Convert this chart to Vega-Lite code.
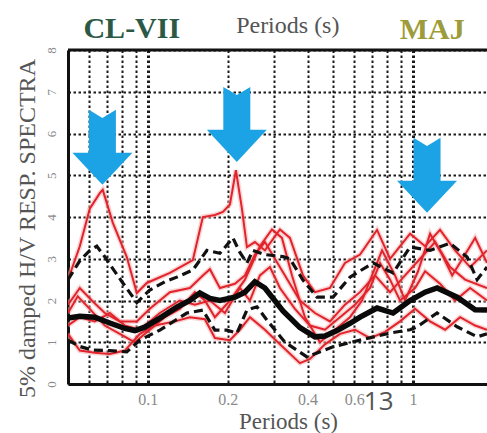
{
  "$schema": "https://vega.github.io/schema/vega-lite/v6.json",
  "width": 419,
  "height": 334,
  "autosize": {"type": "none"},
  "padding": {"left": 68, "top": 50, "right": 0, "bottom": 49},
  "background": "white",
  "config": {"view": {"stroke": null}, "font": "Liberation Serif"},
  "datasets": {
    "curves": [
      {"s": "mean", "p": 0.05, "v": 1.58}, {"s": "mean", "p": 0.0554, "v": 1.62}, {"s": "mean", "p": 0.0631, "v": 1.6}, {"s": "mean", "p": 0.0719, "v": 1.46}, {"s": "mean", "p": 0.0819, "v": 1.33}, {"s": "mean", "p": 0.0893, "v": 1.28}, {"s": "mean", "p": 0.0974, "v": 1.36}, {"s": "mean", "p": 0.111, "v": 1.58}, {"s": "mean", "p": 0.1286, "v": 1.84}, {"s": "mean", "p": 0.144, "v": 2.0}, {"s": "mean", "p": 0.1571, "v": 2.18}, {"s": "mean", "p": 0.1714, "v": 2.05}, {"s": "mean", "p": 0.1869, "v": 2.0}, {"s": "mean", "p": 0.2129, "v": 2.08}, {"s": "mean", "p": 0.2323, "v": 2.2}, {"s": "mean", "p": 0.2533, "v": 2.45}, {"s": "mean", "p": 0.2763, "v": 2.3}, {"s": "mean", "p": 0.3232, "v": 1.75}, {"s": "mean", "p": 0.3745, "v": 1.35}, {"s": "mean", "p": 0.4266, "v": 1.13}, {"s": "mean", "p": 0.4653, "v": 1.15}, {"s": "mean", "p": 0.5165, "v": 1.28}, {"s": "mean", "p": 0.5782, "v": 1.45}, {"s": "mean", "p": 0.631, "v": 1.6}, {"s": "mean", "p": 0.7314, "v": 1.82}, {"s": "mean", "p": 0.841, "v": 1.7}, {"s": "mean", "p": 0.9743, "v": 2.0}, {"s": "mean", "p": 1.11, "v": 2.2}, {"s": "mean", "p": 1.232, "v": 2.3}, {"s": "mean", "p": 1.466, "v": 2.08}, {"s": "mean", "p": 1.714, "v": 1.78}, {"s": "mean", "p": 1.9, "v": 1.77},

      {"s": "plus", "p": 0.05, "v": 2.5}, {"s": "plus", "p": 0.0554, "v": 2.95}, {"s": "plus", "p": 0.0604, "v": 3.2}, {"s": "plus", "p": 0.0642, "v": 3.3}, {"s": "plus", "p": 0.0688, "v": 3.05}, {"s": "plus", "p": 0.0731, "v": 2.8}, {"s": "plus", "p": 0.0805, "v": 2.42}, {"s": "plus", "p": 0.0909, "v": 1.95}, {"s": "plus", "p": 0.1017, "v": 2.25}, {"s": "plus", "p": 0.1159, "v": 2.45}, {"s": "plus", "p": 0.1286, "v": 2.56}, {"s": "plus", "p": 0.1478, "v": 2.73}, {"s": "plus", "p": 0.167, "v": 3.2}, {"s": "plus", "p": 0.1869, "v": 3.13}, {"s": "plus", "p": 0.2093, "v": 3.5}, {"s": "plus", "p": 0.2224, "v": 3.15}, {"s": "plus", "p": 0.2364, "v": 2.9}, {"s": "plus", "p": 0.2489, "v": 3.2}, {"s": "plus", "p": 0.2763, "v": 3.1}, {"s": "plus", "p": 0.3232, "v": 3.05}, {"s": "plus", "p": 0.3433, "v": 3.0}, {"s": "plus", "p": 0.3845, "v": 2.49}, {"s": "plus", "p": 0.4342, "v": 2.08}, {"s": "plus", "p": 0.499, "v": 2.08}, {"s": "plus", "p": 0.5782, "v": 2.56}, {"s": "plus", "p": 0.7064, "v": 2.9}, {"s": "plus", "p": 0.841, "v": 2.66}, {"s": "plus", "p": 0.9743, "v": 3.28}, {"s": "plus", "p": 1.159, "v": 3.2}, {"s": "plus", "p": 1.379, "v": 3.37}, {"s": "plus", "p": 1.599, "v": 3.04}, {"s": "plus", "p": 1.744, "v": 2.5}, {"s": "plus", "p": 1.9, "v": 2.8},

      {"s": "minus", "p": 0.05, "v": 1.05}, {"s": "minus", "p": 0.0554, "v": 0.9}, {"s": "minus", "p": 0.062, "v": 0.81}, {"s": "minus", "p": 0.0719, "v": 0.8}, {"s": "minus", "p": 0.0833, "v": 0.77}, {"s": "minus", "p": 0.0933, "v": 1.05}, {"s": "minus", "p": 0.111, "v": 1.29}, {"s": "minus", "p": 0.1403, "v": 1.7}, {"s": "minus", "p": 0.1612, "v": 1.77}, {"s": "minus", "p": 0.179, "v": 1.29}, {"s": "minus", "p": 0.1986, "v": 1.29}, {"s": "minus", "p": 0.2167, "v": 1.22}, {"s": "minus", "p": 0.2364, "v": 1.77}, {"s": "minus", "p": 0.2578, "v": 1.85}, {"s": "minus", "p": 0.2812, "v": 1.53}, {"s": "minus", "p": 0.3288, "v": 1.0}, {"s": "minus", "p": 0.398, "v": 0.65}, {"s": "minus", "p": 0.499, "v": 0.89}, {"s": "minus", "p": 0.631, "v": 1.05}, {"s": "minus", "p": 0.8188, "v": 1.22}, {"s": "minus", "p": 0.9743, "v": 1.3}, {"s": "minus", "p": 1.035, "v": 1.37}, {"s": "minus", "p": 1.232, "v": 1.7}, {"s": "minus", "p": 1.466, "v": 1.37}, {"s": "minus", "p": 1.744, "v": 1.13}, {"s": "minus", "p": 1.9, "v": 1.2},

      {"s": "r1", "p": 0.05, "v": 2.5}, {"s": "r1", "p": 0.0554, "v": 3.3}, {"s": "r1", "p": 0.0604, "v": 4.2}, {"s": "r1", "p": 0.0659, "v": 4.57}, {"s": "r1", "p": 0.0676, "v": 4.65}, {"s": "r1", "p": 0.0738, "v": 3.86}, {"s": "r1", "p": 0.0833, "v": 3.04}, {"s": "r1", "p": 0.0909, "v": 2.18}, {"s": "r1", "p": 0.0991, "v": 2.42}, {"s": "r1", "p": 0.1211, "v": 2.66}, {"s": "r1", "p": 0.1478, "v": 2.97}, {"s": "r1", "p": 0.1612, "v": 4.0}, {"s": "r1", "p": 0.179, "v": 4.05}, {"s": "r1", "p": 0.1919, "v": 4.12}, {"s": "r1", "p": 0.2039, "v": 4.3}, {"s": "r1", "p": 0.2148, "v": 5.12}, {"s": "r1", "p": 0.2263, "v": 4.2}, {"s": "r1", "p": 0.2364, "v": 3.28}, {"s": "r1", "p": 0.2533, "v": 3.4}, {"s": "r1", "p": 0.2763, "v": 3.2}, {"s": "r1", "p": 0.3148, "v": 3.7}, {"s": "r1", "p": 0.3433, "v": 3.5}, {"s": "r1", "p": 0.3845, "v": 2.6}, {"s": "r1", "p": 0.4266, "v": 2.2}, {"s": "r1", "p": 0.486, "v": 2.3}, {"s": "r1", "p": 0.5536, "v": 2.9}, {"s": "r1", "p": 0.631, "v": 3.1}, {"s": "r1", "p": 0.7314, "v": 3.69}, {"s": "r1", "p": 0.8188, "v": 3.0}, {"s": "r1", "p": 0.9743, "v": 3.6}, {"s": "r1", "p": 1.11, "v": 3.3}, {"s": "r1", "p": 1.264, "v": 3.69}, {"s": "r1", "p": 1.44, "v": 3.2}, {"s": "r1", "p": 1.641, "v": 2.8}, {"s": "r1", "p": 1.9, "v": 3.2},

      {"s": "r2", "p": 0.05, "v": 1.9}, {"s": "r2", "p": 0.0554, "v": 2.3}, {"s": "r2", "p": 0.0615, "v": 2.0}, {"s": "r2", "p": 0.0688, "v": 1.7}, {"s": "r2", "p": 0.0784, "v": 1.5}, {"s": "r2", "p": 0.0909, "v": 1.5}, {"s": "r2", "p": 0.1017, "v": 1.8}, {"s": "r2", "p": 0.1211, "v": 2.2}, {"s": "r2", "p": 0.144, "v": 2.3}, {"s": "r2", "p": 0.1612, "v": 2.6}, {"s": "r2", "p": 0.1714, "v": 2.75}, {"s": "r2", "p": 0.1869, "v": 2.3}, {"s": "r2", "p": 0.2129, "v": 2.4}, {"s": "r2", "p": 0.2323, "v": 2.6}, {"s": "r2", "p": 0.2533, "v": 3.1}, {"s": "r2", "p": 0.2763, "v": 3.4}, {"s": "r2", "p": 0.3014, "v": 3.0}, {"s": "r2", "p": 0.3288, "v": 2.6}, {"s": "r2", "p": 0.3745, "v": 2.0}, {"s": "r2", "p": 0.4266, "v": 1.7}, {"s": "r2", "p": 0.486, "v": 1.5}, {"s": "r2", "p": 0.5536, "v": 1.9}, {"s": "r2", "p": 0.631, "v": 2.2}, {"s": "r2", "p": 0.7188, "v": 2.6}, {"s": "r2", "p": 0.8188, "v": 2.2}, {"s": "r2", "p": 0.9328, "v": 2.6}, {"s": "r2", "p": 1.0627, "v": 3.0}, {"s": "r2", "p": 1.211, "v": 3.4}, {"s": "r2", "p": 1.379, "v": 2.8}, {"s": "r2", "p": 1.571, "v": 2.5}, {"s": "r2", "p": 1.9, "v": 2.3},

      {"s": "r3", "p": 0.05, "v": 1.2}, {"s": "r3", "p": 0.0554, "v": 0.8}, {"s": "r3", "p": 0.0631, "v": 0.75}, {"s": "r3", "p": 0.0719, "v": 0.72}, {"s": "r3", "p": 0.0819, "v": 0.8}, {"s": "r3", "p": 0.0933, "v": 1.2}, {"s": "r3", "p": 0.1063, "v": 1.4}, {"s": "r3", "p": 0.1264, "v": 1.5}, {"s": "r3", "p": 0.144, "v": 1.6}, {"s": "r3", "p": 0.1641, "v": 1.55}, {"s": "r3", "p": 0.179, "v": 1.1}, {"s": "r3", "p": 0.2039, "v": 1.05}, {"s": "r3", "p": 0.2224, "v": 1.3}, {"s": "r3", "p": 0.2426, "v": 1.6}, {"s": "r3", "p": 0.2763, "v": 1.3}, {"s": "r3", "p": 0.3148, "v": 0.95}, {"s": "r3", "p": 0.3745, "v": 0.5}, {"s": "r3", "p": 0.4085, "v": 0.6}, {"s": "r3", "p": 0.4653, "v": 0.95}, {"s": "r3", "p": 0.5301, "v": 1.2}, {"s": "r3", "p": 0.6039, "v": 1.3}, {"s": "r3", "p": 0.6882, "v": 1.1}, {"s": "r3", "p": 0.784, "v": 1.25}, {"s": "r3", "p": 0.8931, "v": 1.5}, {"s": "r3", "p": 1.0175, "v": 1.8}, {"s": "r3", "p": 1.159, "v": 1.5}, {"s": "r3", "p": 1.321, "v": 1.3}, {"s": "r3", "p": 1.504, "v": 1.6}, {"s": "r3", "p": 1.714, "v": 1.4}, {"s": "r3", "p": 1.9, "v": 1.3},

      {"s": "r4", "p": 0.05, "v": 1.4}, {"s": "r4", "p": 0.0554, "v": 1.6}, {"s": "r4", "p": 0.0631, "v": 1.5}, {"s": "r4", "p": 0.0719, "v": 1.7}, {"s": "r4", "p": 0.0819, "v": 1.4}, {"s": "r4", "p": 0.0933, "v": 1.3}, {"s": "r4", "p": 0.111, "v": 1.7}, {"s": "r4", "p": 0.132, "v": 2.0}, {"s": "r4", "p": 0.1504, "v": 1.9}, {"s": "r4", "p": 0.1714, "v": 2.0}, {"s": "r4", "p": 0.1952, "v": 1.7}, {"s": "r4", "p": 0.2224, "v": 2.3}, {"s": "r4", "p": 0.2426, "v": 2.0}, {"s": "r4", "p": 0.2646, "v": 2.6}, {"s": "r4", "p": 0.2886, "v": 2.8}, {"s": "r4", "p": 0.3148, "v": 2.3}, {"s": "r4", "p": 0.3586, "v": 1.8}, {"s": "r4", "p": 0.4085, "v": 1.4}, {"s": "r4", "p": 0.4653, "v": 1.3}, {"s": "r4", "p": 0.5301, "v": 1.6}, {"s": "r4", "p": 0.6039, "v": 1.9}, {"s": "r4", "p": 0.6882, "v": 2.3}, {"s": "r4", "p": 0.7507, "v": 2.9}, {"s": "r4", "p": 0.8188, "v": 2.5}, {"s": "r4", "p": 0.8931, "v": 2.0}, {"s": "r4", "p": 1.0175, "v": 2.3}, {"s": "r4", "p": 1.11, "v": 2.7}, {"s": "r4", "p": 1.264, "v": 2.4}, {"s": "r4", "p": 1.44, "v": 2.0}, {"s": "r4", "p": 1.641, "v": 2.3}, {"s": "r4", "p": 1.9, "v": 2.0},

      {"s": "r5", "p": 0.05, "v": 1.7}, {"s": "r5", "p": 0.0544, "v": 2.1}, {"s": "r5", "p": 0.0604, "v": 1.8}, {"s": "r5", "p": 0.0688, "v": 1.4}, {"s": "r5", "p": 0.0784, "v": 1.2}, {"s": "r5", "p": 0.0893, "v": 1.0}, {"s": "r5", "p": 0.1017, "v": 1.3}, {"s": "r5", "p": 0.1159, "v": 1.6}, {"s": "r5", "p": 0.132, "v": 1.8}, {"s": "r5", "p": 0.1504, "v": 2.2}, {"s": "r5", "p": 0.1641, "v": 2.0}, {"s": "r5", "p": 0.179, "v": 1.6}, {"s": "r5", "p": 0.2039, "v": 2.0}, {"s": "r5", "p": 0.2323, "v": 2.5}, {"s": "r5", "p": 0.2646, "v": 3.3}, {"s": "r5", "p": 0.2937, "v": 3.7}, {"s": "r5", "p": 0.3204, "v": 3.5}, {"s": "r5", "p": 0.3495, "v": 2.6}, {"s": "r5", "p": 0.3911, "v": 1.6}, {"s": "r5", "p": 0.4456, "v": 1.0}, {"s": "r5", "p": 0.5076, "v": 1.3}, {"s": "r5", "p": 0.5782, "v": 1.6}, {"s": "r5", "p": 0.6419, "v": 2.0}, {"s": "r5", "p": 0.7003, "v": 2.6}, {"s": "r5", "p": 0.7638, "v": 3.2}, {"s": "r5", "p": 0.8552, "v": 2.6}, {"s": "r5", "p": 0.9328, "v": 2.0}, {"s": "r5", "p": 1.0445, "v": 2.7}, {"s": "r5", "p": 1.159, "v": 3.6}, {"s": "r5", "p": 1.286, "v": 3.1}, {"s": "r5", "p": 1.404, "v": 2.6}, {"s": "r5", "p": 1.571, "v": 3.1}, {"s": "r5", "p": 1.714, "v": 3.5}, {"s": "r5", "p": 1.9, "v": 2.9}
    ],
    "peaks": [
      {"p": 0.0674, "v": 4.77},
      {"p": 0.2165, "v": 5.32},
      {"p": 1.129, "v": 4.1}
    ]
  },
  "layer": [
    {
      "data": {"name": "curves"},
      "transform": [{"filter": "indexof(['r1','r2','r3','r4','r5'], datum.s) >= 0"}],
      "mark": {"type": "line", "color": "#f6b0b0", "strokeWidth": 5, "opacity": 0.55, "clip": true},
      "encoding": {
        "x": {
          "field": "p", "type": "quantitative",
          "scale": {"type": "log", "domain": [0.05, 1.9], "nice": false},
          "axis": {
            "values": [0.06, 0.07, 0.08, 0.09, 0.1, 0.2, 0.3, 0.4, 0.5, 0.6, 0.7, 0.8, 0.9, 1],
            "format": "~g",
            "labelExpr": "indexof([0.1, 0.2, 0.4, 0.6, 1], datum.value) >= 0 ? datum.label : ''",
            "grid": true, "gridColor": "#1a1a1a", "gridDash": [2.5, 2.5],
            "gridWidth": {"condition": {"test": "datum.value == 0.1 || datum.value == 1", "value": 3}, "value": 2},
            "ticks": false, "tickSize": 0,
            "domain": true, "domainColor": "#111111", "domainWidth": 3,
            "labelFont": "Liberation Serif", "labelFontSize": 16, "labelColor": "#8a8a8a",
            "labelPadding": 7, "labelDx": -4, "labelBaseline": "top",
            "title": "Periods (s)", "titleFont": "Liberation Serif", "titleFontSize": 23,
            "titleFontWeight": "normal", "titleColor": "#555555",
            "titleX": 220, "titleY": 44, "titleAlign": "center", "titleBaseline": "alphabetic"
          }
        },
        "y": {
          "field": "v", "type": "quantitative",
          "scale": {"domain": [0, 8], "nice": false},
          "axis": {
            "values": [0, 1, 2, 3, 4, 5, 6, 7, 8],
            "grid": true, "gridColor": "#1a1a1a", "gridDash": [2.5, 2.5], "gridWidth": 2,
            "ticks": false, "tickSize": 0,
            "domain": true, "domainColor": "#111111", "domainWidth": 3,
            "labelAngle": 270, "labelAlign": "center", "labelBaseline": "bottom",
            "labelPadding": 10, "labelFont": "Liberation Serif", "labelFontSize": 13, "labelColor": "#8a8a8a",
            "title": "5% damped H/V RESP. SPECTRA", "titleFont": "Liberation Serif", "titleFontSize": 24,
            "titleFontWeight": "normal", "titleColor": "#555555", "titleAngle": 270,
            "titleX": -41, "titleY": 178, "titleAlign": "center", "titleBaseline": "middle"
          }
        },
        "detail": {"field": "s"}
      }
    },
    {
      "data": {"name": "curves"},
      "transform": [{"filter": "indexof(['r1','r2','r3','r4','r5'], datum.s) >= 0"}],
      "mark": {"type": "line", "color": "#e2232b", "strokeWidth": 2, "clip": true},
      "encoding": {
        "x": {"field": "p", "type": "quantitative"},
        "y": {"field": "v", "type": "quantitative"},
        "detail": {"field": "s"}
      }
    },
    {
      "data": {"name": "curves"},
      "transform": [{"filter": "datum.s == 'plus' || datum.s == 'minus'"}],
      "mark": {"type": "line", "color": "#111111", "strokeWidth": 3.2, "strokeDash": [9, 5], "clip": true},
      "encoding": {
        "x": {"field": "p", "type": "quantitative"},
        "y": {"field": "v", "type": "quantitative"},
        "detail": {"field": "s"}
      }
    },
    {
      "data": {"name": "curves"},
      "transform": [{"filter": "datum.s == 'mean'"}],
      "mark": {"type": "line", "color": "#0a0a0a", "strokeWidth": 5.5, "clip": true},
      "encoding": {
        "x": {"field": "p", "type": "quantitative"},
        "y": {"field": "v", "type": "quantitative"}
      }
    },
    {
      "data": {"values": [{}]},
      "mark": {"type": "rule", "color": "#111111", "strokeWidth": 3},
      "encoding": {"y": {"datum": 8}}
    },
    {
      "data": {"name": "peaks"},
      "mark": {
        "type": "point",
        "shape": "M0,0L-1,-1.07L-0.45,-1.07L-0.45,-2.5L0,-2.23L0.45,-2.5L0.45,-1.07L1,-1.07Z",
        "size": 3600, "filled": true, "color": "#1ca3e6", "opacity": 1, "strokeWidth": 0
      },
      "encoding": {
        "x": {"field": "p", "type": "quantitative"},
        "y": {"field": "v", "type": "quantitative"}
      }
    },
    {
      "data": {"values": [{}]},
      "mark": {"type": "text", "text": "CL-VII", "font": "Liberation Serif", "fontSize": 30, "fontWeight": "bold", "color": "#2c5846", "align": "center", "baseline": "alphabetic"},
      "encoding": {"x": {"datum": 0.087}, "y": {"datum": 8.29}}
    },
    {
      "data": {"values": [{}]},
      "mark": {"type": "text", "text": "Periods (s)", "font": "Liberation Serif", "fontSize": 24, "color": "#555555", "align": "center", "baseline": "alphabetic"},
      "encoding": {"x": {"datum": 0.337}, "y": {"datum": 8.41}}
    },
    {
      "data": {"values": [{}]},
      "mark": {"type": "text", "text": "MAJ", "font": "Liberation Serif", "fontSize": 30, "fontWeight": "bold", "color": "#9d9b3a", "align": "center", "baseline": "alphabetic"},
      "encoding": {"x": {"datum": 1.18}, "y": {"datum": 8.26}}
    },
    {
      "data": {"values": [{}]},
      "mark": {"type": "text", "text": "13", "font": "Open Sans", "fontSize": 26, "color": "#555555", "align": "left", "baseline": "alphabetic"},
      "encoding": {"x": {"datum": 0.652}, "y": {"datum": -0.623}}
    }
  ]
}
